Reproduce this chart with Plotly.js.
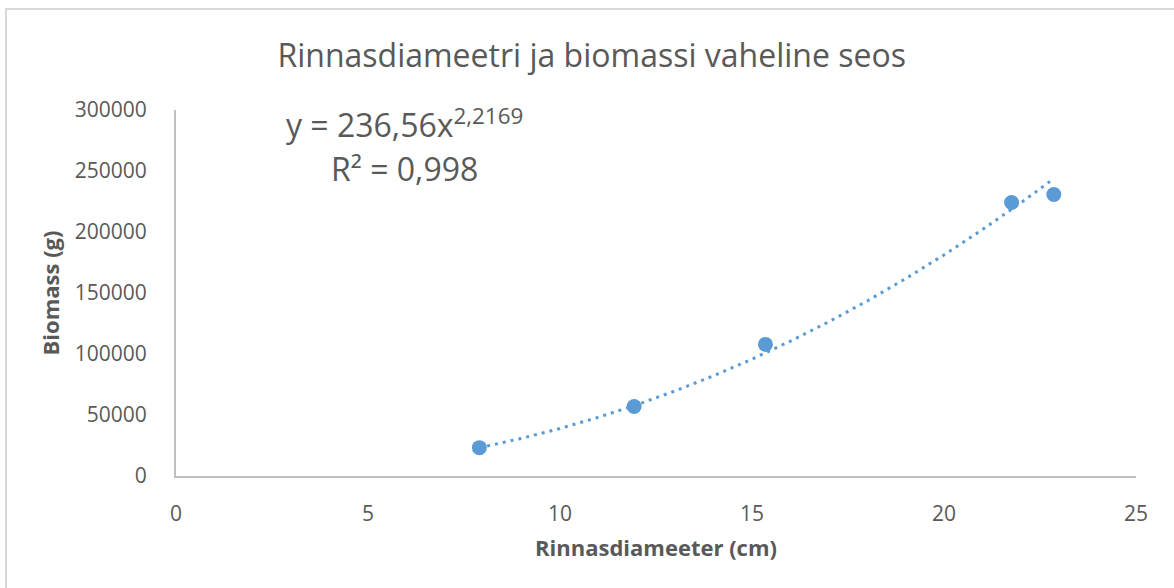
<!DOCTYPE html>
<html>
<head>
<meta charset="utf-8">
<script src="https://cdn.plot.ly/plotly-3.0.1.min.js"></script>
<style>
  html, body { margin: 0; padding: 0; background: #ffffff; }
  #wrap { position: relative; width: 1174px; height: 588px; overflow: hidden; }
  #chart { position: absolute; left: 0; top: 0; width: 1174px; height: 588px; }
  #frame { position: absolute; left: 5px; top: 8px; width: 1300px; height: 700px;
           border-top: 2px solid #d9d9d9; border-left: 2px solid #d9d9d9; pointer-events: none; }
</style>
</head>
<body>
<div id="wrap">
  <div id="chart"></div>
  <div id="frame"></div>
</div>
<script>
// Measured data points: diameter (cm) and biomass (g)
const diameter = [7.90, 11.93, 15.35, 21.76, 22.86];
const biomass  = [23250, 56950, 107860, 224200, 230730];

// Power trendline as drawn in the chart
const trendX = [7.90, 9, 10, 11, 12, 13, 14, 15, 16, 17, 18, 19, 20, 21, 22, 22.86];
const trendY = [23117, 30860, 38980, 48150, 58390, 69770, 82180, 95790, 110540, 126420, 143470, 161770, 181200, 201950, 223870, 243800];

const xTicks = [0, 5, 10, 15, 20, 25];
const yTicks = [0, 50000, 100000, 150000, 200000, 250000, 300000];

const chartTitle = 'Rinnasdiameetri ja biomassi vaheline seos';
const xTitle = 'Rinnasdiameeter (cm)';
const yTitle = 'Biomass (g)';
const eqText = 'y = 236,56x<sup>2,2169</sup>';
const r2Text = 'R² = 0,998';

const gray = '#595959';
const blue = '#5B9BD5';
const font = 'Open Sans, Liberation Sans, sans-serif';

const traces = [
  {
    x: trendX, y: trendY, type: 'scatter', mode: 'lines',
    line: { color: blue, width: 3, dash: '3px,5px' },
    hoverinfo: 'skip', showlegend: false
  },
  {
    x: diameter, y: biomass, type: 'scatter', mode: 'markers',
    marker: { color: blue, size: 15 },
    showlegend: false
  }
];

const layout = {
  width: 1174, height: 588,
  margin: { l: 175.5, r: 38, t: 110, b: 112 },
  paper_bgcolor: 'rgba(0,0,0,0)', plot_bgcolor: '#ffffff',
  font: { family: font, color: gray, size: 21 },
  title: {
    text: chartTitle, x: 0.504, xanchor: 'center', y: 0.905, yanchor: 'middle',
    font: { family: font, size: 32, color: gray }
  },
  xaxis: {
    range: [0, 25], tickvals: xTicks, ticktext: xTicks.map(String),
    showgrid: false, zeroline: false, showline: true, linecolor: '#bfbfbf', linewidth: 2,
    ticks: '', ticklabelstandoff: 18,
    tickfont: { family: font, size: 21, color: gray },
    title: { text: '<b>' + xTitle + '</b>', standoff: 14, font: { family: font, size: 22, color: gray } }
  },
  yaxis: {
    range: [0, 300000], tickvals: yTicks, ticktext: yTicks.map(String),
    showgrid: false, zeroline: false, showline: true, linecolor: '#bfbfbf', linewidth: 2,
    ticks: '', ticklabelstandoff: 23,
    tickfont: { family: font, size: 21, color: gray },
    title: { text: '<b>' + yTitle + '</b>', standoff: 9, font: { family: font, size: 22, color: gray } }
  },
  annotations: [
    { xref: 'paper', yref: 'paper', x: (404 - 175.5) / 960.5, y: (476 - 123) / 366,
      text: eqText, showarrow: false, xanchor: 'center', yanchor: 'middle',
      font: { family: font, size: 32, color: gray } },
    { xref: 'paper', yref: 'paper', x: (404 - 175.5) / 960.5, y: (476 - 168) / 366,
      text: r2Text, showarrow: false, xanchor: 'center', yanchor: 'middle',
      font: { family: font, size: 32, color: gray } }
  ]
};

Plotly.newPlot('chart', traces, layout, { displayModeBar: false, staticPlot: true });
</script>
</body>
</html>
